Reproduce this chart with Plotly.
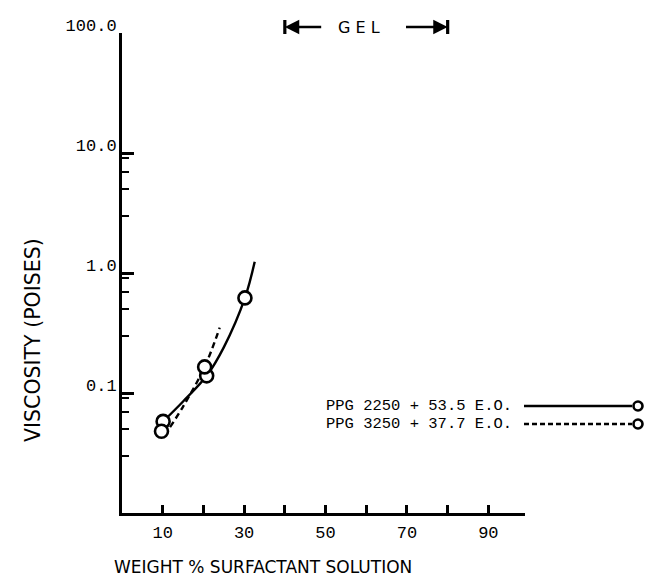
import plotly.graph_objects as go

# ---- data ----
solid_name = "PPG 2250 + 53.5 E.O."
dashed_name = "PPG 3250 + 37.7 E.O."

solid_pts_x = [10.1, 20.8, 30.2]
solid_pts_y = [0.058, 0.139, 0.62]
dashed_pts_x = [9.7, 20.3]
dashed_pts_y = [0.048, 0.165]

# points
solid_curve_x = [10.1, 15, 20.8, 25, 30.2, 32.6]
solid_curve_y = [0.058, 0.085, 0.139, 0.24, 0.62, 1.24]
dashed_curve_x = [11.8, 15, 20.3, 24.0]
dashed_curve_y = [0.052, 0.077, 0.165, 0.35]

gel_range = [40, 80]

x_tickvals = [10, 30, 50, 70, 90]
x_minor = [20, 40, 60, 80]
y_tickvals = [0.1, 1, 10, 100]
y_ticktext = ["0.1", "1.0", "10.0", "100.0"]
y_minor = [0.03, 0.05, 0.07, 0.09, 0.3, 0.5, 0.7, 0.9, 3, 5, 7, 9]

# ---- geometry helpers (pixel -> paper) ----
W, H = 648, 588
L, R, T, B = 122, 123, 33, 75
PW, PH = W - L - R, H - T - B


def px(x):
    return (x - L) / PW


def py(y):
    return (H - B - y) / PH


MONO = "Liberation Mono"
SANS = "DejaVu Sans"

fig = go.Figure()
fig.add_trace(go.Scatter(x=solid_curve_x, y=solid_curve_y, mode="lines",
                         line=dict(color="black", width=2.4, shape="spline"),
                         showlegend=False, hoverinfo="skip"))
fig.add_trace(go.Scatter(x=dashed_curve_x, y=dashed_curve_y, mode="lines",
                         line=dict(color="black", width=2.4, shape="spline", dash="6px,4px"),
                         showlegend=False, hoverinfo="skip"))
fig.add_trace(go.Scatter(x=solid_pts_x, y=solid_pts_y, mode="markers", name=solid_name,
                         marker=dict(symbol="circle", size=13, color="white",
                                     line=dict(color="black", width=2.6)),
                         showlegend=False))
fig.add_trace(go.Scatter(x=dashed_pts_x, y=dashed_pts_y, mode="markers", name=dashed_name,
                         marker=dict(symbol="circle", size=13, color="white",
                                     line=dict(color="black", width=2.6)),
                         showlegend=False))

shapes = []
annotations = []

# legend (text left, sample on right)
for i, (name, dash) in enumerate([(solid_name, "solid"), (dashed_name, "5px,3px")]):
    yy = 406 + 18 * i
    annotations.append(dict(text=name, xref="paper", yref="paper", x=px(514), y=py(yy),
                            xanchor="right", yanchor="middle", showarrow=False,
                            font=dict(family=MONO, size=15.5, color="black")))
    shapes.append(dict(type="line", xref="paper", yref="paper", x0=px(524), x1=px(632),
                       y0=py(yy), y1=py(yy), line=dict(color="black", width=2.4, dash=dash)))
    shapes.append(dict(type="circle", xref="paper", yref="paper", xsizemode="pixel",
                       ysizemode="pixel", xanchor=px(638), yanchor=py(yy),
                       x0=-4.5, x1=4.5, y0=-4.5, y1=4.5,
                       fillcolor="white", line=dict(color="black", width=2.6)))

# GEL marker
gy = py(27)
annotations.append(dict(text="G E L", xref="paper", yref="paper", x=px(359), y=gy,
                        xanchor="center", yanchor="middle", showarrow=False,
                        font=dict(family=SANS, size=16, color="black")))
for xv, tail in [(gel_range[0], 49.3), (gel_range[1], 69.4)]:
    annotations.append(dict(x=xv, y=gy, xref="x", yref="paper", ax=tail, ay=0,
                            axref="x", ayref="pixel", text="", showarrow=True,
                            arrowhead=2, arrowsize=1.2, arrowwidth=2.4, arrowcolor="black"))
    shapes.append(dict(type="line", xref="x", yref="paper", x0=xv, x1=xv,
                       y0=gy - 7 / PH, y1=gy + 7 / PH, line=dict(color="black", width=3.2)))

# axis titles
annotations.append(dict(text="WEIGHT % SURFACTANT SOLUTION", xref="paper", yref="paper",
                        x=px(263), y=py(567), xanchor="center", yanchor="middle",
                        showarrow=False, font=dict(family=SANS, size=17, color="black")))
annotations.append(dict(text="VISCOSITY (POISES)", xref="paper", yref="paper",
                        x=px(33), y=py(340), xanchor="center", yanchor="middle",
                        textangle=-90, showarrow=False,
                        font=dict(family=SANS, size=20.5, color="black")))

fig.update_layout(
    width=W, height=H,
    margin=dict(l=L, r=R, t=T, b=B, pad=0),
    paper_bgcolor="white", plot_bgcolor="white",
    shapes=shapes, annotations=annotations,
    showlegend=False,
    xaxis=dict(range=[0, 99], showgrid=False, zeroline=False, showline=True,
               linecolor="black", linewidth=3, ticks="inside", ticklen=8, tickwidth=2.5,
               tickcolor="black", tickmode="array", tickvals=x_tickvals,
               ticklabelstandoff=2,
               tickfont=dict(family=MONO, size=17, color="black"),
               minor=dict(tickmode="array", tickvals=x_minor, ticks="inside",
                          ticklen=8, tickwidth=2.5, tickcolor="black", showgrid=False)),
    yaxis=dict(type="log", range=[-2, 2], showgrid=False, zeroline=False, showline=True,
               linecolor="black", linewidth=3, ticks="inside", ticklen=12, tickwidth=2.5,
               tickcolor="black", tickmode="array", tickvals=y_tickvals,
               ticktext=y_ticktext, ticklabelshift=-8, ticklabelstandoff=-1,
               tickfont=dict(family=MONO, size=17, color="black"),
               minor=dict(tickmode="array", tickvals=y_minor, ticks="inside",
                          ticklen=7, tickwidth=2, tickcolor="black", showgrid=False)),
)

fig.write_html("out.html")
